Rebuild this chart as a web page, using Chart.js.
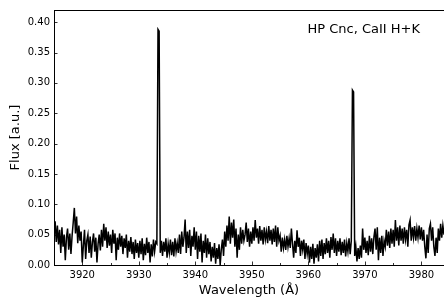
<!DOCTYPE html>
<html>
<head>
<meta charset="utf-8">
<script src="https://cdn.jsdelivr.net/npm/chart.js@4"></script>
<style>
  html, body { margin: 0; padding: 0; background: #fff; overflow: hidden; }
  #spec { display: block; }
</style>
</head>
<body>
<canvas id="spec" width="444" height="298"></canvas>
<script>
// wavelength grid of the spectrum (Angstrom)
const waveStart = 3915;
const waveStep = 0.2;

// flux [a.u.], one value per grid step
const flux = [
  0.055, 0.072, 0.038, 0.065, 0.034, // 3915
  0.058, 0.020, 0.062, 0.030, 0.050, // 3916
  0.008, 0.045, 0.060, 0.025, 0.052, // 3917
  0.018, 0.048, 0.070, 0.094, 0.052, // 3918
  0.080, 0.036, 0.065, 0.040, 0.055, // 3919
  0.004, 0.032, 0.058, 0.010, 0.040, // 3920
  0.050, 0.020, 0.047, 0.012, 0.038, // 3921
  0.052, 0.022, 0.045, 0.004, 0.035, // 3922
  0.050, 0.024, 0.058, 0.030, 0.068, // 3923
  0.040, 0.062, 0.028, 0.055, 0.032, // 3924
  0.050, 0.020, 0.058, 0.035, 0.052, // 3925
  0.008, 0.045, 0.025, 0.052, 0.030, // 3926
  0.048, 0.018, 0.044, 0.028, 0.050, // 3927
  0.012, 0.040, 0.022, 0.046, 0.018, // 3928
  0.038, 0.010, 0.042, 0.020, 0.036, // 3929
  0.012, 0.040, 0.018, 0.044, 0.008, // 3930
  0.035, 0.016, 0.045, 0.020, 0.038, // 3931
  0.004, 0.034, 0.014, 0.042, 0.022, // 3932
  0.038, 0.035, 0.388, 0.385, 0.020, // 3933  Ca II K
  0.040, 0.015, 0.038, 0.022, 0.044, // 3934
  0.012, 0.035, 0.020, 0.042, 0.016, // 3935
  0.038, 0.014, 0.044, 0.022, 0.036, // 3936
  0.020, 0.050, 0.018, 0.055, 0.030, // 3937
  0.045, 0.075, 0.020, 0.055, 0.028, // 3938
  0.058, 0.015, 0.048, 0.030, 0.062, // 3939
  0.025, 0.055, 0.010, 0.048, 0.022, // 3940
  0.052, 0.004, 0.040, 0.020, 0.050, // 3941
  0.012, 0.044, 0.018, 0.038, 0.006, // 3942
  0.030, 0.012, 0.036, 0.002, 0.028, // 3943
  0.010, 0.034, 0.000, 0.026, 0.042, // 3944
  0.015, 0.055, 0.030, 0.065, 0.040, // 3945
  0.080, 0.035, 0.070, 0.045, 0.075, // 3946
  0.030, 0.060, 0.012, 0.050, 0.025, // 3947
  0.062, 0.035, 0.058, 0.040, 0.050, // 3948
  0.070, 0.038, 0.060, 0.030, 0.055, // 3949
  0.035, 0.062, 0.040, 0.074, 0.045, // 3950
  0.060, 0.035, 0.064, 0.040, 0.058, // 3951
  0.034, 0.062, 0.042, 0.055, 0.036, // 3952
  0.064, 0.040, 0.058, 0.034, 0.060, // 3953
  0.038, 0.065, 0.030, 0.062, 0.040, // 3954
  0.048, 0.022, 0.045, 0.028, 0.042, // 3955
  0.025, 0.048, 0.030, 0.044, 0.028, // 3956
  0.060, 0.035, 0.012, 0.040, 0.020, // 3957
  0.057, 0.030, 0.045, 0.015, 0.040, // 3958
  0.025, 0.042, 0.010, 0.036, 0.018, // 3959
  0.032, 0.004, 0.030, 0.010, 0.035, // 3960
  0.002, 0.028, 0.012, 0.034, 0.006, // 3961
  0.040, 0.015, 0.042, 0.010, 0.036, // 3962
  0.018, 0.044, 0.020, 0.040, 0.012, // 3963
  0.046, 0.025, 0.052, 0.020, 0.044, // 3964
  0.015, 0.040, 0.022, 0.044, 0.016, // 3965
  0.038, 0.020, 0.042, 0.014, 0.036, // 3966
  0.022, 0.044, 0.018, 0.040, 0.288, // 3967  Ca II H
  0.285, 0.015, 0.030, 0.006, 0.028, // 3968
  0.010, 0.032, 0.012, 0.060, 0.025, // 3969
  0.045, 0.020, 0.040, 0.016, 0.048, // 3970
  0.022, 0.044, 0.018, 0.046, 0.060, // 3971
  0.025, 0.062, 0.008, 0.045, 0.020, // 3972
  0.048, 0.015, 0.040, 0.030, 0.058, // 3973
  0.032, 0.055, 0.028, 0.060, 0.035, // 3974
  0.058, 0.030, 0.074, 0.040, 0.062, // 3975
  0.032, 0.065, 0.040, 0.060, 0.035, // 3976
  0.062, 0.042, 0.058, 0.030, 0.066, // 3977
  0.074, 0.040, 0.062, 0.045, 0.064, // 3978
  0.040, 0.060, 0.045, 0.065, 0.042, // 3979
  0.062, 0.040, 0.058, 0.030, 0.011, // 3980
  0.050, 0.020, 0.060, 0.068, 0.040, // 3981
  0.062, 0.030, 0.015, 0.045, 0.020, // 3982
  0.060, 0.040, 0.068, 0.045, 0.065, // 3983
  0.050                              // 3984
];

// axis ticks
const xTicks = [3920, 3930, 3940, 3950, 3960, 3970, 3980];
const xMinorTicks = [3915, 3925, 3935, 3945, 3955, 3965, 3975];
const yTicks = [0.00, 0.05, 0.10, 0.15, 0.20, 0.25, 0.30, 0.35, 0.40];

const label = "HP Cnc, CaII H+K";

const font = "'DejaVu Sans', Arial, sans-serif";
Chart.defaults.font.family = font;
Chart.defaults.color = "#000";

const points = flux.map((f, i) => ({ x: waveStart + i * waveStep, y: f }));

// matplotlib-ish frame: top spine, inward ticks, label text
const framePlugin = {
  id: "frame",
  afterDraw(chart) {
    const { ctx, chartArea: a, scales } = chart;
    ctx.save();
    ctx.strokeStyle = "#000";
    ctx.lineWidth = 1;
    ctx.beginPath();
    ctx.moveTo(a.left, a.top + 0.5);
    ctx.lineTo(a.right, a.top + 0.5);
    ctx.stroke();

    ctx.lineWidth = 0.8;
    ctx.beginPath();
    xTicks.forEach(v => {
      const px = Math.round(scales.x.getPixelForValue(v)) + 0.5;
      ctx.moveTo(px, a.bottom);
      ctx.lineTo(px, a.bottom - 3.5);
    });
    xMinorTicks.forEach(v => {
      const px = Math.round(scales.x.getPixelForValue(v)) + 0.5;
      ctx.moveTo(px, a.bottom);
      ctx.lineTo(px, a.bottom - 2);
    });
    yTicks.forEach(v => {
      const py = Math.round(scales.y.getPixelForValue(v)) + 0.5;
      ctx.moveTo(a.left, py);
      ctx.lineTo(a.left + 3.5, py);
    });
    ctx.stroke();

    ctx.fillStyle = "#000";
    ctx.font = "13px " + font;
    ctx.textAlign = "left";
    ctx.textBaseline = "middle";
    ctx.fillText(label, a.left + (a.right - a.left) * 0.65, a.top + 20);
    ctx.restore();
  }
};

new Chart(document.getElementById("spec"), {
  type: "line",
  data: {
    datasets: [{
      data: points,
      borderColor: "#000",
      borderWidth: 1.5,
      pointRadius: 0,
      tension: 0,
      fill: false
    }]
  },
  options: {
    responsive: false,
    animation: false,
    layout: { padding: { top: 3, right: 0, left: 0, bottom: 0 } },
    plugins: { legend: { display: false }, tooltip: { enabled: false } },
    scales: {
      x: {
        type: "linear",
        min: 3915,
        max: 3984,
        afterBuildTicks: s => { s.ticks = xTicks.map(v => ({ value: v })); },
        afterFit: s => { s.height = 33; },
        grid: { display: false, drawTicks: false, tickLength: 0 },
        border: { display: true, color: "#000", width: 1 },
        ticks: { font: { size: 10 }, color: "#000", padding: 4, maxRotation: 0, callback: v => String(v) },
        title: { display: true, text: "Wavelength (Å)", font: { size: 13 }, color: "#000", padding: { top: 0, bottom: 0 } }
      },
      y: {
        min: 0,
        max: 0.42,
        afterBuildTicks: s => { s.ticks = yTicks.map(v => ({ value: v })); },
        afterFit: s => { s.width = 54; },
        grid: { display: false, drawTicks: false, tickLength: 0 },
        border: { display: true, color: "#000", width: 1 },
        ticks: { font: { size: 10 }, color: "#000", padding: 4, callback: v => v.toFixed(2) },
        title: { display: true, text: "Flux [a.u.]", font: { size: 13 }, color: "#000", padding: { top: 8, bottom: 0 } }
      }
    }
  },
  plugins: [framePlugin]
});
</script>
</body>
</html>
